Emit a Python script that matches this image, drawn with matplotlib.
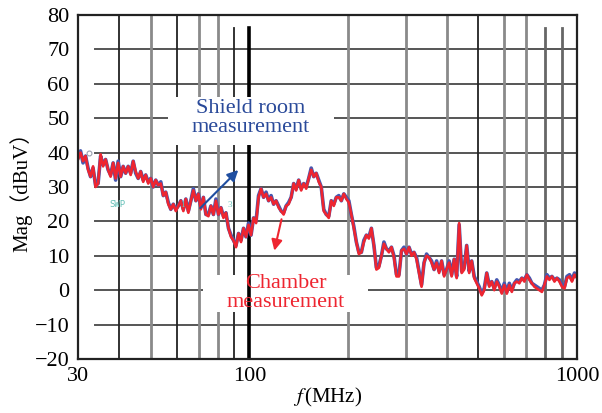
import matplotlib
matplotlib.use('Agg')
import matplotlib.pyplot as plt
import numpy as np

plt.rcParams['font.family'] = ['Liberation Serif', 'Noto Sans CJK SC']
plt.rcParams['mathtext.fontset'] = 'stix'

# sweep readings, 200 points log spaced from 30 MHz to 1 GHz (dBuV)
chamber = [
    38, 40, 37.5, 39,   35, 33, 36, 30,   31, 39.5, 36, 38,   35, 33, 37, 32.5,
    37, 33, 36, 34,   36, 33.5, 37.5, 34.5,   32.5, 34.5, 31.5, 33.5,   31, 32.5, 30, 32,
    30.5, 31, 27.5, 28.5,   25, 23.5, 25, 23,   24.5, 26, 23, 26.5,   22.5, 26, 29, 26,
    28, 23.5, 27, 22,   21.5, 24.5, 22, 26,   22, 24, 21, 22.5,   18, 15.5, 14.5, 12.5,
    16.5, 14, 18, 15.5,   19, 16, 21, 19.5,   27, 29.5, 27, 28,   26, 27, 25, 26,
    24, 23, 22, 24.5,   25, 27, 31, 29,   32, 29, 31, 29.5,   32.5, 35, 33, 34,
    31.5, 30, 23, 22,   21, 26, 24.5, 27,   27, 26, 28, 26.5,   25.5, 22, 18, 14,
    10.5, 11, 14, 16,   15, 18, 13, 6,   6.5, 10, 13.5, 12,   11, 12.5, 9.5, 4,
    4, 11.5, 12, 10.5,   12.5, 10, 11, 9,   5, 1, 8, 10,   9.5, 8, 6, 8,
    5, 8.5, 4, 6,   8, 4, 9, 3.5,   19.5, 5, 6, 13,   5, 8.5, 3.5, 2,
    0.5, -1.5, 0, 5,   1, 2.5, 0, 2.5,   1, -1, 1.5, -1,   1.5, -0.5, 2, 2.5,
    2, 3.5, 2.5, 4.5,   3, 2, 1, 0.5,   0, -0.5, 1.5, 4,   3, 4, 2.5, 3.5,
    2.5, 1, 0.5, 3.5,   4, 2.5, 4.5, 3.5,
]
shield = [
    38.5, 40.5, 37, 39,   35.5, 33, 35.5, 30.5,   31, 39, 36.5, 38,   35, 33.5, 37, 32,
    37.5, 33, 36, 34,   36, 34, 37.5, 34,   32.5, 34.5, 32, 33.5,   31.5, 32.5, 30, 32,
    30.5, 31.5, 27.5, 28.5,   25.5, 23.5, 25, 23.5,   24.5, 26, 23.5, 26.5,   23, 26, 29.5, 26,
    28, 24, 27, 22,   22, 24.5, 22, 26.5,   22, 24, 21.5, 22.5,   18, 16, 14.5, 13,
    16.5, 14.5, 18, 15.5,   19.5, 16, 21, 20,   27.5, 29.5, 27, 28.5,   26, 27.5, 25, 26,
    24.5, 23, 22.5, 24.5,   25.5, 27, 31, 29.5,   32, 29.5, 31, 30,   32.5, 35.5, 33, 34,
    32, 30, 23.5, 22,   21.5, 26, 25, 27,   27.5, 26, 28, 27,   26, 22, 18.5, 14,
    11, 11, 14.5, 16,   15.5, 18, 13, 6.5,   7, 10, 14, 12,   11.5, 12.5, 10, 4.5,
    4.5, 11.5, 12.5, 10.5,   12.5, 10.5, 11, 9.5,   5.5, 1.5, 8, 10.5,   9.5, 8.5, 6, 8.5,
    5.5, 8.5, 4.5, 6,   8.5, 4.5, 9, 4,   19, 5.5, 6.5, 13,   5.5, 8.5, 4, 2.5,
    1, -1, 0.5, 5,   1.5, 2.5, 0.5, 3,   1.5, -0.5, 2, -0.5,   2, 0, 2, 3,
    2.5, 3.5, 3, 4.5,   3.5, 2, 1.5, 1,   0.5, 0, 1.5, 4.5,   3.5, 4, 3, 3.5,
    3, 1.5, 1, 4,   4.5, 3, 5, 4,
]
freq = np.geomspace(30, 1000, len(chamber))

y_ticks = list(range(-20, 90, 10))
x_ticks = [30, 100, 1000]
grid_dark = [40, 60, 500]
grid_gray = [50, 70, 80, 200, 300, 400, 600, 700]
grid_short = [90, 800, 900]

fig = plt.figure(figsize=(6.02, 4.13), dpi=100)
ax = fig.add_axes([0.1296, 0.1308, 0.8289, 0.8329])
ax.set_xscale('log')
ax.set_xlim(30, 1000)
ax.set_ylim(-20, 80)

# grid drawn by hand so line weights can vary
for y in y_ticks[1:-1]:
    ax.axhline(y, xmin=0.034, color='#555555', lw=1.4, zorder=1)
for x in grid_dark:
    ax.axvline(x, color='#222222', lw=1.3, zorder=1)
for x in grid_gray:
    ax.axvline(x, color='#8a8a8a', lw=2.0, zorder=1)
for x in grid_short:
    ax.axvline(x, ymax=0.962, color='#666666' if x > 100 else '#222222',
               lw=2.0 if x > 100 else 1.3, zorder=1)
ax.axvline(100, ymax=0.962, color='black', lw=2.6, zorder=2.5)

# white panels behind the labels
ax.fill_between([56.6, 180.7], 42.2, 56.2, color='white', lw=0, zorder=2.6)
ax.fill_between([72.4, 231], -6.3, 4.4, color='white', lw=0, zorder=2)

ax.plot(freq, shield, color='#4658b0', lw=2.6, zorder=3)
ax.plot(freq, chamber, color='#ee2530', lw=1.9, zorder=3.2)

# analyzer marker remnants
ax.plot([32.4], [40], marker='o', ms=3.5, mfc='none', mec='#9aa0b0', mew=0.8, zorder=3.5)
ax.text(39.6, 24.8, 'SWP', color='#66c0b8', fontsize=6.5, ha='center', va='center',
        family='DejaVu Sans Mono', zorder=3.5)
ax.text(62.7, 24.8, '1', color='#66c0b8', fontsize=6.5, ha='center', va='center', zorder=3.5)
ax.text(87, 24.8, '3', color='#66c0b8', fontsize=6.5, ha='center', va='center', zorder=3.5)

ax.text(100.7, 50, 'Shield room\nmeasurement', color='#2a4a9a', fontsize=16,
        ha='center', va='center', linespacing=1.0, zorder=4)
ax.text(128.9, -0.8, 'Chamber\nmeasurement', color='#ee2530', fontsize=16,
        ha='center', va='center', linespacing=0.95, zorder=4)

ax.annotate('', xy=(93.8, 35.5), xytext=(69.9, 23.3), zorder=4,
            arrowprops=dict(arrowstyle='-|>', color='#1f4ea0', lw=1.5, mutation_scale=16))
ax.annotate('', xy=(118.7, 10.7), xytext=(125.9, 21.4), zorder=4,
            arrowprops=dict(arrowstyle='-|>', color='#ee2530', lw=1.5, mutation_scale=16))

ax.set_xticks(x_ticks)
ax.set_xticklabels([str(t) for t in x_ticks])
ax.xaxis.set_minor_locator(matplotlib.ticker.NullLocator())
ax.set_yticks(y_ticks)
ax.set_yticklabels([str(t).replace('-', '\u2212') for t in y_ticks])
ax.tick_params(length=0, labelsize=16, pad=6)
for s in ax.spines.values():
    s.set_linewidth(1.6)
    s.set_color('#222222')
    s.set_zorder(5)

ax.set_xlabel('$f\\,$(MHz)', fontsize=15, labelpad=0)
ax.set_ylabel('Mag（dBuV）', fontsize=15, labelpad=2)

fig.savefig('out.png', dpi=100)
